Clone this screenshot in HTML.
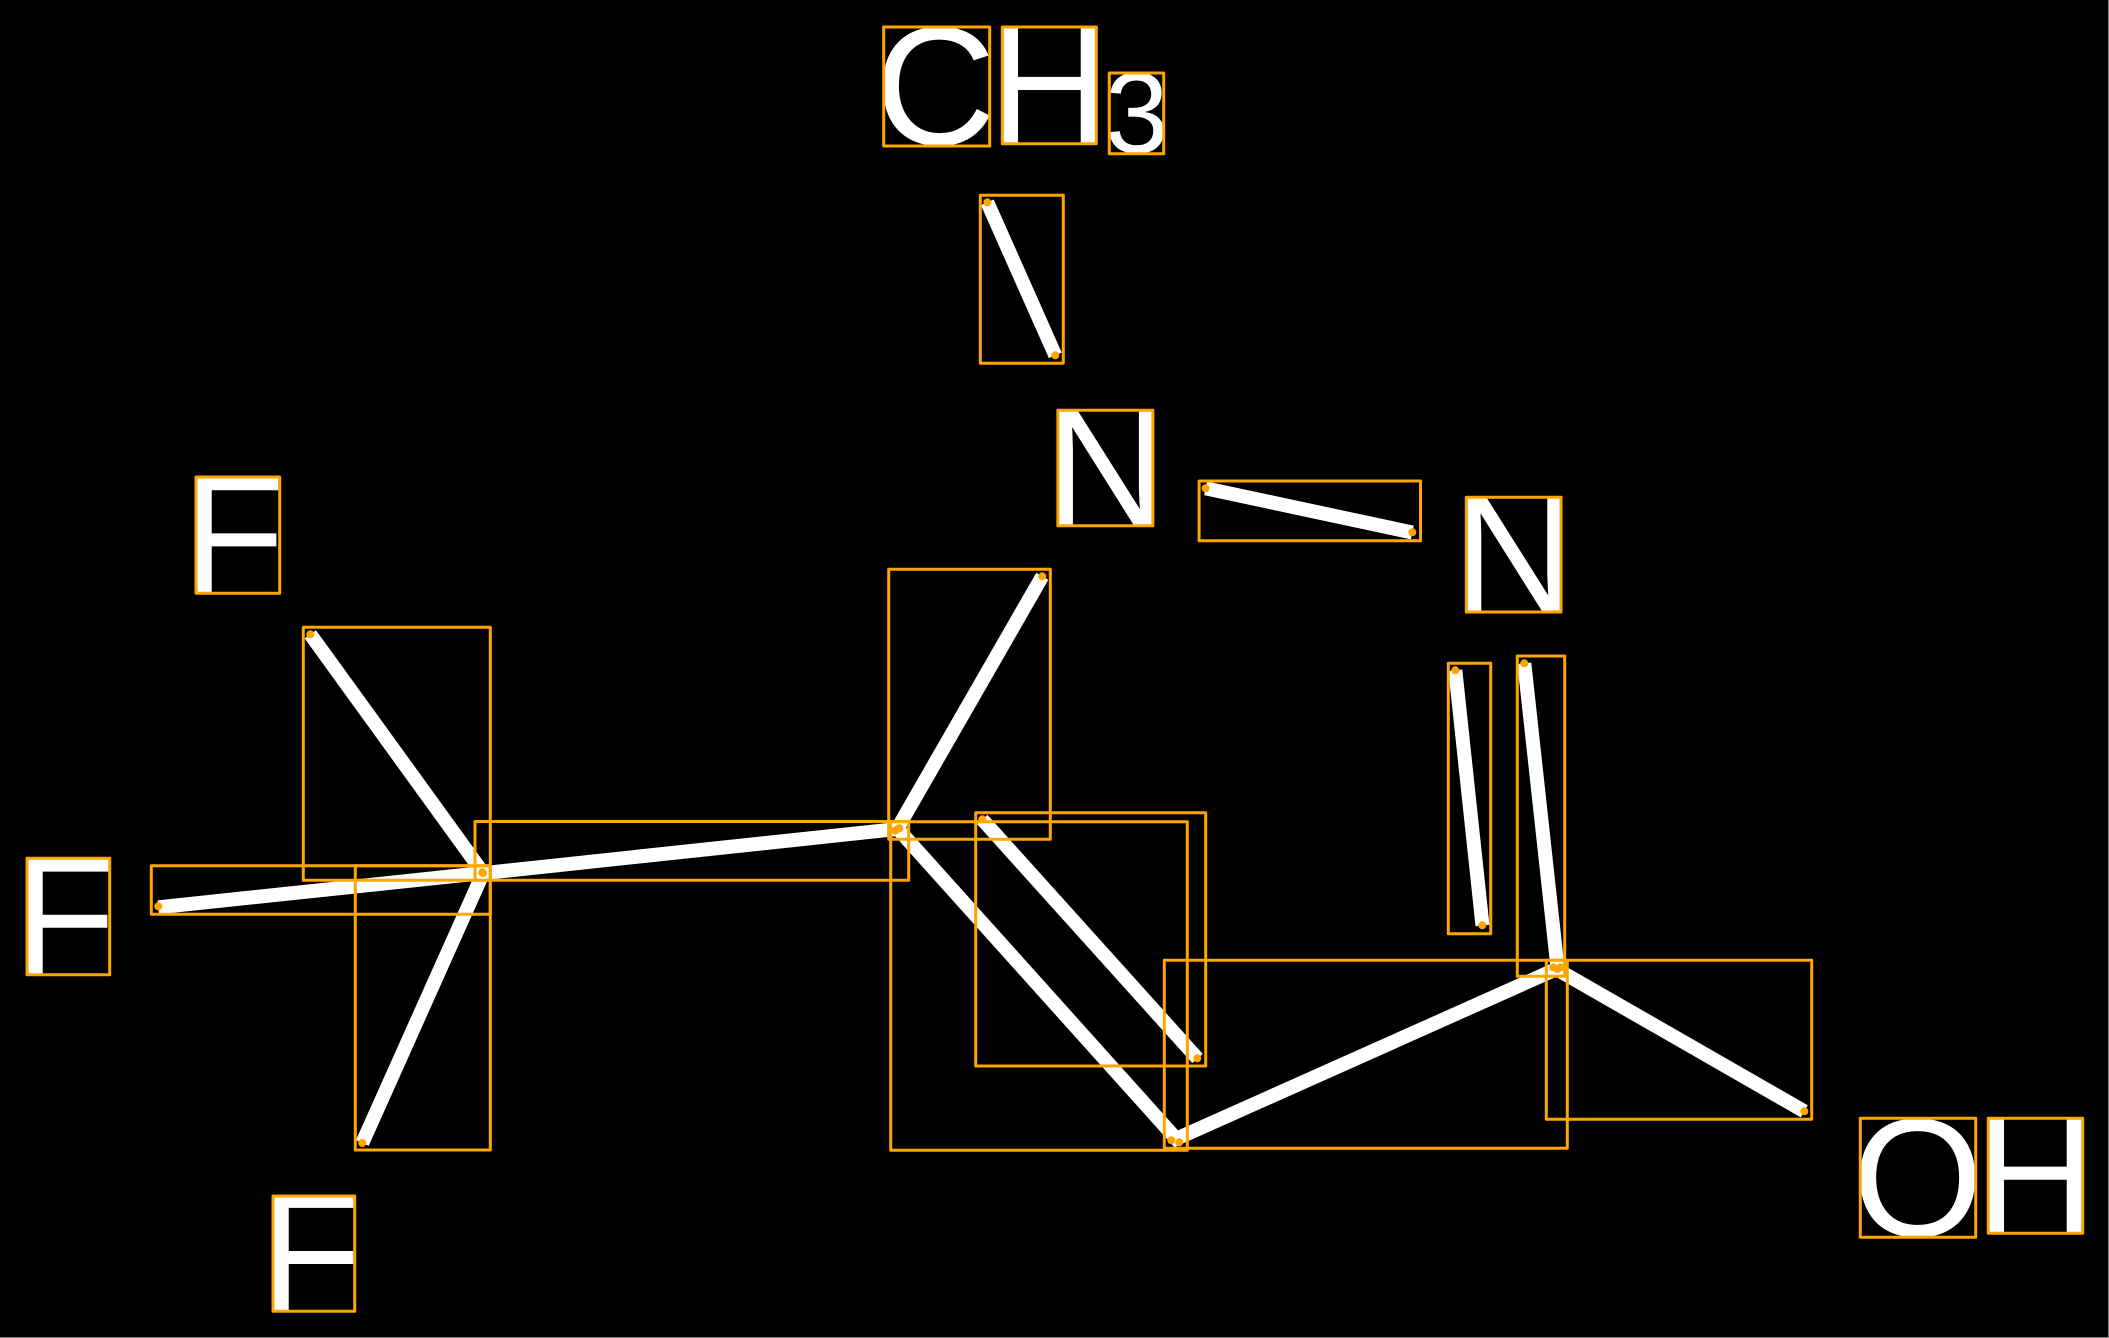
<!DOCTYPE html>
<html>
<head>
<meta charset="utf-8">
<style>
html,body{margin:0;padding:0;background:#000;width:2109px;height:1338px;overflow:hidden}
svg{display:block}
text{font-family:"Liberation Sans",sans-serif;fill:#fff;font-size:168.5px;text-rendering:geometricPrecision}
.b{stroke:#fff;stroke-width:14;fill:none}
.r{stroke:#FFA500;stroke-width:3;fill:none;stroke-linejoin:round}
circle{fill:#FFA500}
</style>
</head>
<body>
<svg xmlns="http://www.w3.org/2000/svg" width="2109" height="1338" viewBox="0 0 2109 1338">
<rect x="0" y="0" width="2109" height="1338" fill="#000"/>
<rect x="2108" y="0" width="1" height="1338" fill="#888"/>
<rect x="0" y="1337" width="2109" height="1" fill="#888"/>

<text x="874.4" y="144.4">C</text>
<text x="988.5" y="143.7">H</text>
<text x="1104.9" y="152.6" style="font-size:115px">3</text>
<text x="1045.1" y="525.7">N</text>
<text x="1453.5" y="612">N</text>
<text x="182.2" y="593.3">F</text>
<text x="13.2" y="974.7">F</text>
<text x="259.2" y="1311">F</text>
<text x="1852.2" y="1236">O</text>
<text x="1974.5" y="1233.5">H</text>

<line class="b" x1="987.3" y1="202.3" x2="1055.3" y2="355.3"/>
<line class="b" x1="1205.6" y1="488.3" x2="1412.3" y2="532.5"/>
<line class="b" x1="1042.3" y1="576.3" x2="895.7" y2="831.5"/>
<line class="b" x1="310.3" y1="634.3" x2="483.3" y2="873.3"/>
<line class="b" x1="158.3" y1="907.3" x2="483" y2="873"/>
<line class="b" x1="362.3" y1="1143" x2="483.3" y2="872.7"/>
<line class="b" x1="482" y1="873.3" x2="901.7" y2="828.5"/>
<line class="b" x1="897.7" y1="828.7" x2="1180" y2="1143"/>
<line class="b" x1="982.3" y1="819.5" x2="1197.5" y2="1058.5"/>
<line class="b" x1="1171.3" y1="1141" x2="1560.3" y2="967.3"/>
<line class="b" x1="1553.3" y1="967.3" x2="1804.3" y2="1111.3"/>
<line class="b" x1="1455.3" y1="670.3" x2="1482.5" y2="925.5"/>
<line class="b" x1="1524.3" y1="663.3" x2="1557.7" y2="969.3"/>

<rect class="r" x="883.7" y="27" width="106" height="119"/>
<rect class="r" x="1002.3" y="27" width="94" height="116.7"/>
<rect class="r" x="1109.3" y="73" width="54.4" height="80.7"/>
<rect class="r" x="1057.9" y="410.3" width="95" height="115.4"/>
<rect class="r" x="1466.3" y="497.3" width="94.7" height="114.7"/>
<rect class="r" x="196" y="477" width="83.7" height="116.3"/>
<rect class="r" x="27" y="858.3" width="82.7" height="116.4"/>
<rect class="r" x="273" y="1196" width="81.7" height="115.3"/>
<rect class="r" x="1860.3" y="1118.3" width="115.4" height="119"/>
<rect class="r" x="1988.3" y="1118.3" width="94.4" height="115"/>

<rect class="r" x="980.3" y="195.3" width="83" height="168"/>
<rect class="r" x="1199.1" y="481" width="221.4" height="59.7"/>
<rect class="r" x="888.7" y="569.3" width="161.6" height="270"/>
<rect class="r" x="303.3" y="627.3" width="187" height="253"/>
<rect class="r" x="151.3" y="865.7" width="339" height="48.6"/>
<rect class="r" x="355.3" y="865.7" width="135" height="284.3"/>
<rect class="r" x="475" y="821.5" width="433.7" height="58.8"/>
<rect class="r" x="890.7" y="821.7" width="296.6" height="328.6"/>
<rect class="r" x="975.7" y="812.7" width="230" height="253.3"/>
<rect class="r" x="1164.3" y="960.3" width="403" height="188"/>
<rect class="r" x="1546.3" y="960.3" width="265.4" height="159"/>
<rect class="r" x="1448.3" y="663.3" width="42.4" height="270.4"/>
<rect class="r" x="1517.3" y="656" width="47.4" height="320.3"/>

<circle cx="987.3" cy="202.3" r="4"/><circle cx="1055.3" cy="355.3" r="4"/>
<circle cx="1205.6" cy="488.3" r="4"/><circle cx="1412.3" cy="532.3" r="4"/>
<circle cx="1042.3" cy="576.3" r="4"/><circle cx="895.3" cy="830.7" r="4"/>
<circle cx="310.3" cy="634.3" r="4"/><circle cx="482.3" cy="872.3" r="4"/>
<circle cx="158.3" cy="906.3" r="4"/><circle cx="482.3" cy="872.7" r="4"/>
<circle cx="362.3" cy="1143" r="4"/><circle cx="483" cy="873" r="4"/>
<circle cx="899.3" cy="828.3" r="4"/><circle cx="897.7" cy="829" r="4"/>
<circle cx="1179.3" cy="1142.3" r="4"/><circle cx="1171.3" cy="1140.3" r="4"/>
<circle cx="982.3" cy="819.3" r="4"/><circle cx="1197.3" cy="1058.3" r="4"/>
<circle cx="1560.3" cy="967.3" r="4"/><circle cx="1553.3" cy="967.3" r="4"/>
<circle cx="1804.3" cy="1111.3" r="4"/>
<circle cx="1455.3" cy="670.3" r="4"/><circle cx="1482.3" cy="925.3" r="4"/>
<circle cx="1524.3" cy="663.3" r="4"/><circle cx="1557.3" cy="969" r="4"/>
</svg>
</body>
</html>
